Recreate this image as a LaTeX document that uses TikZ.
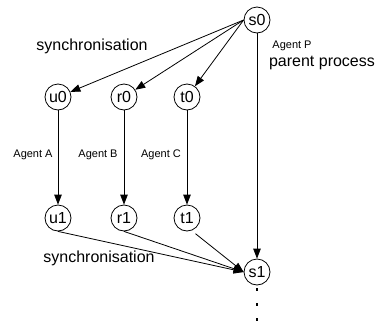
\documentclass[tikz,border=0pt]{standalone}
\usepackage{fontspec}
\setmainfont{Liberation Sans}
\usetikzlibrary{arrows.meta}

\begin{document}
\begin{tikzpicture}[
  x=1pt, y=-1pt,
  state/.style={draw, circle, minimum size=26pt, inner sep=0pt, line width=0.8pt, font=\fontsize{16}{19}\selectfont},
  biglabel/.style={font=\fontsize{16}{19}\selectfont},
  agentlabel/.style={font=\fontsize{11}{13}\selectfont},
  arrow/.style={-{Triangle[length=10pt, width=7.5pt]}, line width=0.8pt},
  dots/.style={line width=2.5pt, dash pattern=on 2.5pt off 12.5pt}
]
\useasboundingbox (0,0) rectangle (380,322);

% Parent process
\node[state] (s0) at (257,20) {s0};
\node[state] (s1) at (257,272) {s1};
\coordinate (dotstart) at (257,288);
\coordinate (dotend) at (257,321);

% Row 1: forked states
\node[state] (u0) at (58,97) {u0};
\node[state] (r0) at (124,97) {r0};
\node[state] (t0) at (187,97) {t0};

% Row 2: joined states
\node[state] (u1) at (58,218) {u1};
\node[state] (r1) at (124,218) {r1};
\node[state] (t1) at (187,218) {t1};

% Labels
\node[biglabel] (synctop) at (92,46) {synchronisation};
\node[biglabel] (syncbot) at (99,258) {synchronisation};
\node[agentlabel] (agp) at (292,46) {Agent P};
\node[biglabel] (parent) at (322,63) {parent process};
\node[agentlabel] (aga) at (33,155) {Agent A};
\node[agentlabel] (agb) at (98,155) {Agent B};
\node[agentlabel] (agc) at (161,155) {Agent C};

% Arrows
\draw[arrow] (s0.west) -- (u0);
\draw[arrow] (s0.west) -- (r0);
\draw[arrow] (s0.west) -- (t0);
\draw[arrow] (s0) -- (s1);
\draw[arrow] (u0) -- (u1);
\draw[arrow] (r0) -- (r1);
\draw[arrow] (t0) -- (t1);
\draw[arrow] (u1.south) -- (s1.west);
\draw[arrow] (r1.south) -- (s1.west);
\draw[arrow, shorten <=5pt] (t1.-70) -- (s1.west);
\draw[dots] (dotstart) -- (dotend);

\end{tikzpicture}
\end{document}
